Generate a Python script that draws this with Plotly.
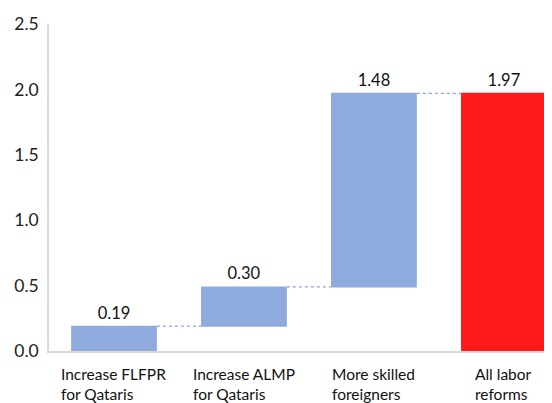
import plotly.graph_objects as go

categories = ["Increase FLFPR<br>for Qataris", "Increase ALMP<br>for Qataris",
              "More skilled<br>foreigners", "All labor<br>reforms"]
values = [0.19, 0.30, 1.48, 1.97]
measures = ["relative", "relative", "relative", "total"]
labels = ["0.19", "0.30", "1.48", "1.97"]
yticks = [0.0, 0.5, 1.0, 1.5, 2.0, 2.5]

FONT = "Lato"

fig = go.Figure()
fig.add_trace(go.Waterfall(
    x=list(range(len(categories))),
    y=values,
    measure=measures,
    text=labels,
    textposition="outside",
    textfont=dict(family=FONT, size=16.5, color="#111111"),
    increasing=dict(marker=dict(color="#8FAADC", line=dict(width=0))),
    totals=dict(marker=dict(color="#FF1A1A", line=dict(width=0))),
    connector=dict(line=dict(color="#6F8FD0", width=1, dash="dot")),
    width=0.66,
    cliponaxis=False,
    hoverinfo="skip",
))

for i, c in enumerate(categories):
    fig.add_annotation(
        x=i, xref="x", y=0, yref="paper", yanchor="top", xanchor="center",
        yshift=-12, text=c, showarrow=False, align="left",
        font=dict(family=FONT, size=15.5, color="#111111"),
    )

fig.update_layout(
    width=544, height=395,
    margin=dict(l=41, r=0, t=16, b=52),
    paper_bgcolor="white", plot_bgcolor="white",
    showlegend=False,
    font=dict(family=FONT),
    xaxis=dict(
        range=[-0.5, 3.37], showticklabels=False, showgrid=False,
        zeroline=False, showline=True, linecolor="#D9D9D9", linewidth=1.5,
        ticks="", fixedrange=True,
    ),
    yaxis=dict(
        range=[0, 2.5], tickvals=yticks, tickformat=".1f",
        showgrid=False, zeroline=False, showline=True,
        linecolor="#D9D9D9", linewidth=1.5, ticks="",
        tickfont=dict(family=FONT, size=17.5, color="#222222"),
        ticklabelstandoff=5,
    ),
)

fig.write_html("out.html")
